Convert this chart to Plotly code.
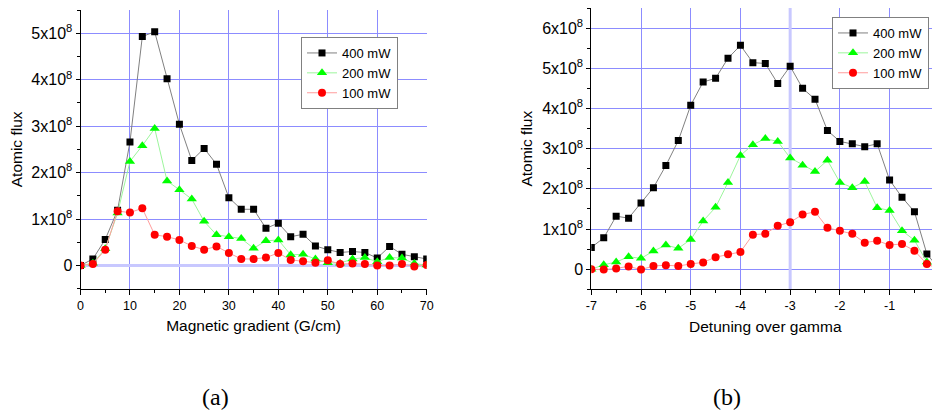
import plotly.graph_objects as go

# ---------------- data: panel (a) ----------------
grad_x = [0, 2.5, 5, 7.5, 10, 12.5, 15, 17.5, 20, 22.5, 25, 27.5, 30, 32.5, 35, 37.5,
          40, 42.5, 45, 47.5, 50, 52.5, 55, 57.5, 60, 62.5, 65, 67.5, 70]
grad_400 = [0.00, 0.14, 0.56, 1.19, 2.66, 4.93, 5.03, 4.02, 3.04, 2.26, 2.52, 2.18, 1.46,
            1.21, 1.21, 0.80, 0.91, 0.62, 0.67, 0.42, 0.34, 0.28, 0.30, 0.28, 0.16,
            0.41, 0.24, 0.19, 0.14]
grad_200 = [0.00, 0.05, 0.36, 1.13, 2.24, 2.58, 2.95, 1.82, 1.63, 1.43, 0.95, 0.66, 0.62,
            0.58, 0.37, 0.53, 0.55, 0.23, 0.24, 0.14, 0.06, 0.05, 0.14, 0.17, 0.08,
            0.17, 0.16, 0.04, 0.01]
grad_100 = [0.00, 0.03, 0.34, 1.17, 1.14, 1.23, 0.66, 0.62, 0.55, 0.42, 0.34, 0.41, 0.27,
            0.14, 0.14, 0.17, 0.27, 0.12, 0.09, 0.06, 0.11, 0.03, 0.04, 0.03, 0.00,
            0.00, 0.03, -0.02, 0.01]

# ---------------- data: panel (b) ----------------
det_x = [-7, -6.75, -6.5, -6.25, -6, -5.75, -5.5, -5.25, -5, -4.75, -4.5, -4.25, -4,
         -3.75, -3.5, -3.25, -3, -2.75, -2.5, -2.25, -2, -1.75, -1.5, -1.25, -1,
         -0.75, -0.5, -0.25, 0]
det_400 = [0.54, 0.78, 1.32, 1.27, 1.65, 2.03, 2.58, 3.20, 4.08, 4.66, 4.75, 5.25, 5.57,
           5.14, 5.12, 4.62, 5.05, 4.50, 4.23, 3.45, 3.18, 3.12, 3.05, 3.12, 2.22,
           1.79, 1.43, 0.38, 0.00]
det_200 = [0.00, 0.11, 0.18, 0.31, 0.27, 0.45, 0.60, 0.52, 0.74, 1.20, 1.54, 2.16, 2.83,
           3.10, 3.25, 3.18, 2.77, 2.59, 2.43, 2.71, 2.16, 2.03, 2.18, 1.53, 1.46,
           0.96, 0.72, 0.18, 0.00]
det_100 = [0.00, -0.01, 0.02, 0.07, -0.01, 0.08, 0.10, 0.08, 0.13, 0.17, 0.30, 0.37, 0.43,
           0.86, 0.88, 1.08, 1.17, 1.36, 1.43, 1.03, 0.96, 0.88, 0.66, 0.71, 0.60,
           0.63, 0.46, 0.13, 0.00]

scale = 1e8
series_names = ["400 mW", "200 mW", "100 mW"]

# axis ranges and tick labels
a_xrange = [0, 70]
a_yrange = [-0.5, 5.5]
a_yvals = [0, 1, 2, 3, 4, 5]
a_ytext = ["0", "1x10<sup>8</sup>", "2x10<sup>8</sup>", "3x10<sup>8</sup>",
           "4x10<sup>8</sup>", "5x10<sup>8</sup>"]
a_xvals = [0, 10, 20, 30, 40, 50, 60, 70]
b_xrange = [-7, 0]
b_yrange = [-0.5, 6.5]
b_yvals = [0, 1, 2, 3, 4, 5, 6]
b_ytext = ["0", "1x10<sup>8</sup>", "2x10<sup>8</sup>", "3x10<sup>8</sup>",
           "4x10<sup>8</sup>", "5x10<sup>8</sup>", "6x10<sup>8</sup>"]
b_xvals = [-7, -6, -5, -4, -3, -2, -1, 0]
b_xtext = ["-7", "-6", "-5", "-4", "-3", "-2", "-1", "0"]
b_highlight_x = -3   # grid line drawn wider/lighter in the original

# page has an 8px body margin: the figure is placed at (8, 8) in the 940x417 window
OFF = 8
W, H = 940 - OFF, 417 - OFF
FONT = "Liberation Sans, Arial, sans-serif"
SERIF = "Liberation Serif, DejaVu Serif, serif"
GRID = "#8c8cff"


def px(x):
    return (x - OFF) / W


def py(y):
    return 1 - (y - OFF) / H


styles = [
    dict(line_color="#808080", marker_color="black", symbol="square", size=7),
    dict(line_color="#9cf59c", marker_color="#00ff00", symbol="triangle-up", size=9),
    dict(line_color="#ff9c9c", marker_color="#ff0000", symbol="circle", size=8),
]

fig = go.Figure()

# wide light grid line of panel (b), drawn under the data
fig.add_trace(go.Scatter(
    x=[b_highlight_x, b_highlight_x], y=[v * scale for v in b_yrange], mode="lines",
    line=dict(color="#c8c8ff", width=3), showlegend=False, hoverinfo="skip",
    xaxis="x2", yaxis="y2"))

for name, ys, st in zip(series_names, [grad_400, grad_200, grad_100], styles):
    fig.add_trace(go.Scatter(
        x=grad_x, y=[v * scale for v in ys], name=name, mode="lines+markers",
        line=dict(color=st["line_color"], width=1),
        marker=dict(color=st["marker_color"], symbol=st["symbol"], size=st["size"],
                    line=dict(width=0)),
        xaxis="x", yaxis="y", legend="legend"))

for name, ys, st in zip(series_names, [det_400, det_200, det_100], styles):
    fig.add_trace(go.Scatter(
        x=det_x, y=[v * scale for v in ys], name=name, mode="lines+markers",
        line=dict(color=st["line_color"], width=1),
        marker=dict(color=st["marker_color"], symbol=st["symbol"], size=st["size"],
                    line=dict(width=0)),
        xaxis="x2", yaxis="y2", legend="legend2"))


def xax(dom, rng, vals, text, minor_dt, title, anchor):
    d = dict(domain=dom, range=rng, tickvals=vals, showline=True, linecolor="black",
             linewidth=1, ticks="outside", ticklen=5, tickcolor="black",
             tickfont=dict(family=FONT, size=12.5, color="black"),
             ticklabeloverflow="allow",
             showgrid=True, gridcolor=GRID, gridwidth=1, zeroline=False,
             minor=dict(ticks="outside", ticklen=3, dtick=minor_dt, tickcolor="black",
                        showgrid=False),
             title=dict(text=title, font=dict(family=FONT, size=15.5, color="black"),
                        standoff=8),
             automargin=False, anchor=anchor, fixedrange=True)
    if text is not None:
        d["ticktext"] = text
    return d


def yax(dom, rng, vals, text, anchor, zl):
    return dict(domain=dom, range=[r * scale for r in rng],
                tickvals=[v * scale for v in vals], ticktext=text,
                showline=True, linecolor="black", linewidth=1, ticks="outside",
                ticklen=4, tickcolor="black",
                tickfont=dict(family=FONT, size=16, color="black"),
                showgrid=True, gridcolor=GRID, gridwidth=1,
                zeroline=zl, zerolinecolor="#c8c8ff", zerolinewidth=3,
                minor=dict(ticks="outside", ticklen=3, dtick=0.5 * scale,
                           tickcolor="black", showgrid=False),
                title=dict(text="Atomic flux",
                           font=dict(family=FONT, size=15.5, color="black"), standoff=5),
                automargin=False, anchor=anchor, fixedrange=True)


def legend_at(x, y):
    return dict(x=px(x), y=py(y), xanchor="left", yanchor="top",
                bgcolor="white", bordercolor="#808080", borderwidth=1,
                font=dict(family=FONT, size=13, color="black"), tracegroupgap=0,
                itemwidth=30)


fig.update_layout(
    width=W, height=H, margin=dict(l=0, r=0, t=0, b=0, autoexpand=False),
    paper_bgcolor="white", plot_bgcolor="white",
    font=dict(family=FONT, color="black"),
    xaxis=xax([px(80.5), px(426.7)], a_xrange, a_xvals, None, 5,
              "Magnetic gradient (G/cm)", "y"),
    yaxis=yax([py(288.7), py(10)], a_yrange, a_yvals, a_ytext, "x", True),
    xaxis2=xax([px(591.3), px(939.3)], b_xrange, b_xvals, b_xtext, 0.5,
               "Detuning over gamma", "y2"),
    yaxis2=yax([py(289.3), py(8)], b_yrange, b_yvals, b_ytext, "x2", False),
    legend=legend_at(301, 37),
    legend2=legend_at(832, 17),
    showlegend=True,
    annotations=[
        dict(text="(a)", x=px(215), y=py(397), xref="paper", yref="paper",
             showarrow=False, xanchor="center", yanchor="middle",
             font=dict(family=SERIF, size=24, color="black")),
        dict(text="(b)", x=px(727), y=py(397), xref="paper", yref="paper",
             showarrow=False, xanchor="center", yanchor="middle",
             font=dict(family=SERIF, size=24, color="black")),
    ],
)

fig.write_html("out.html")
